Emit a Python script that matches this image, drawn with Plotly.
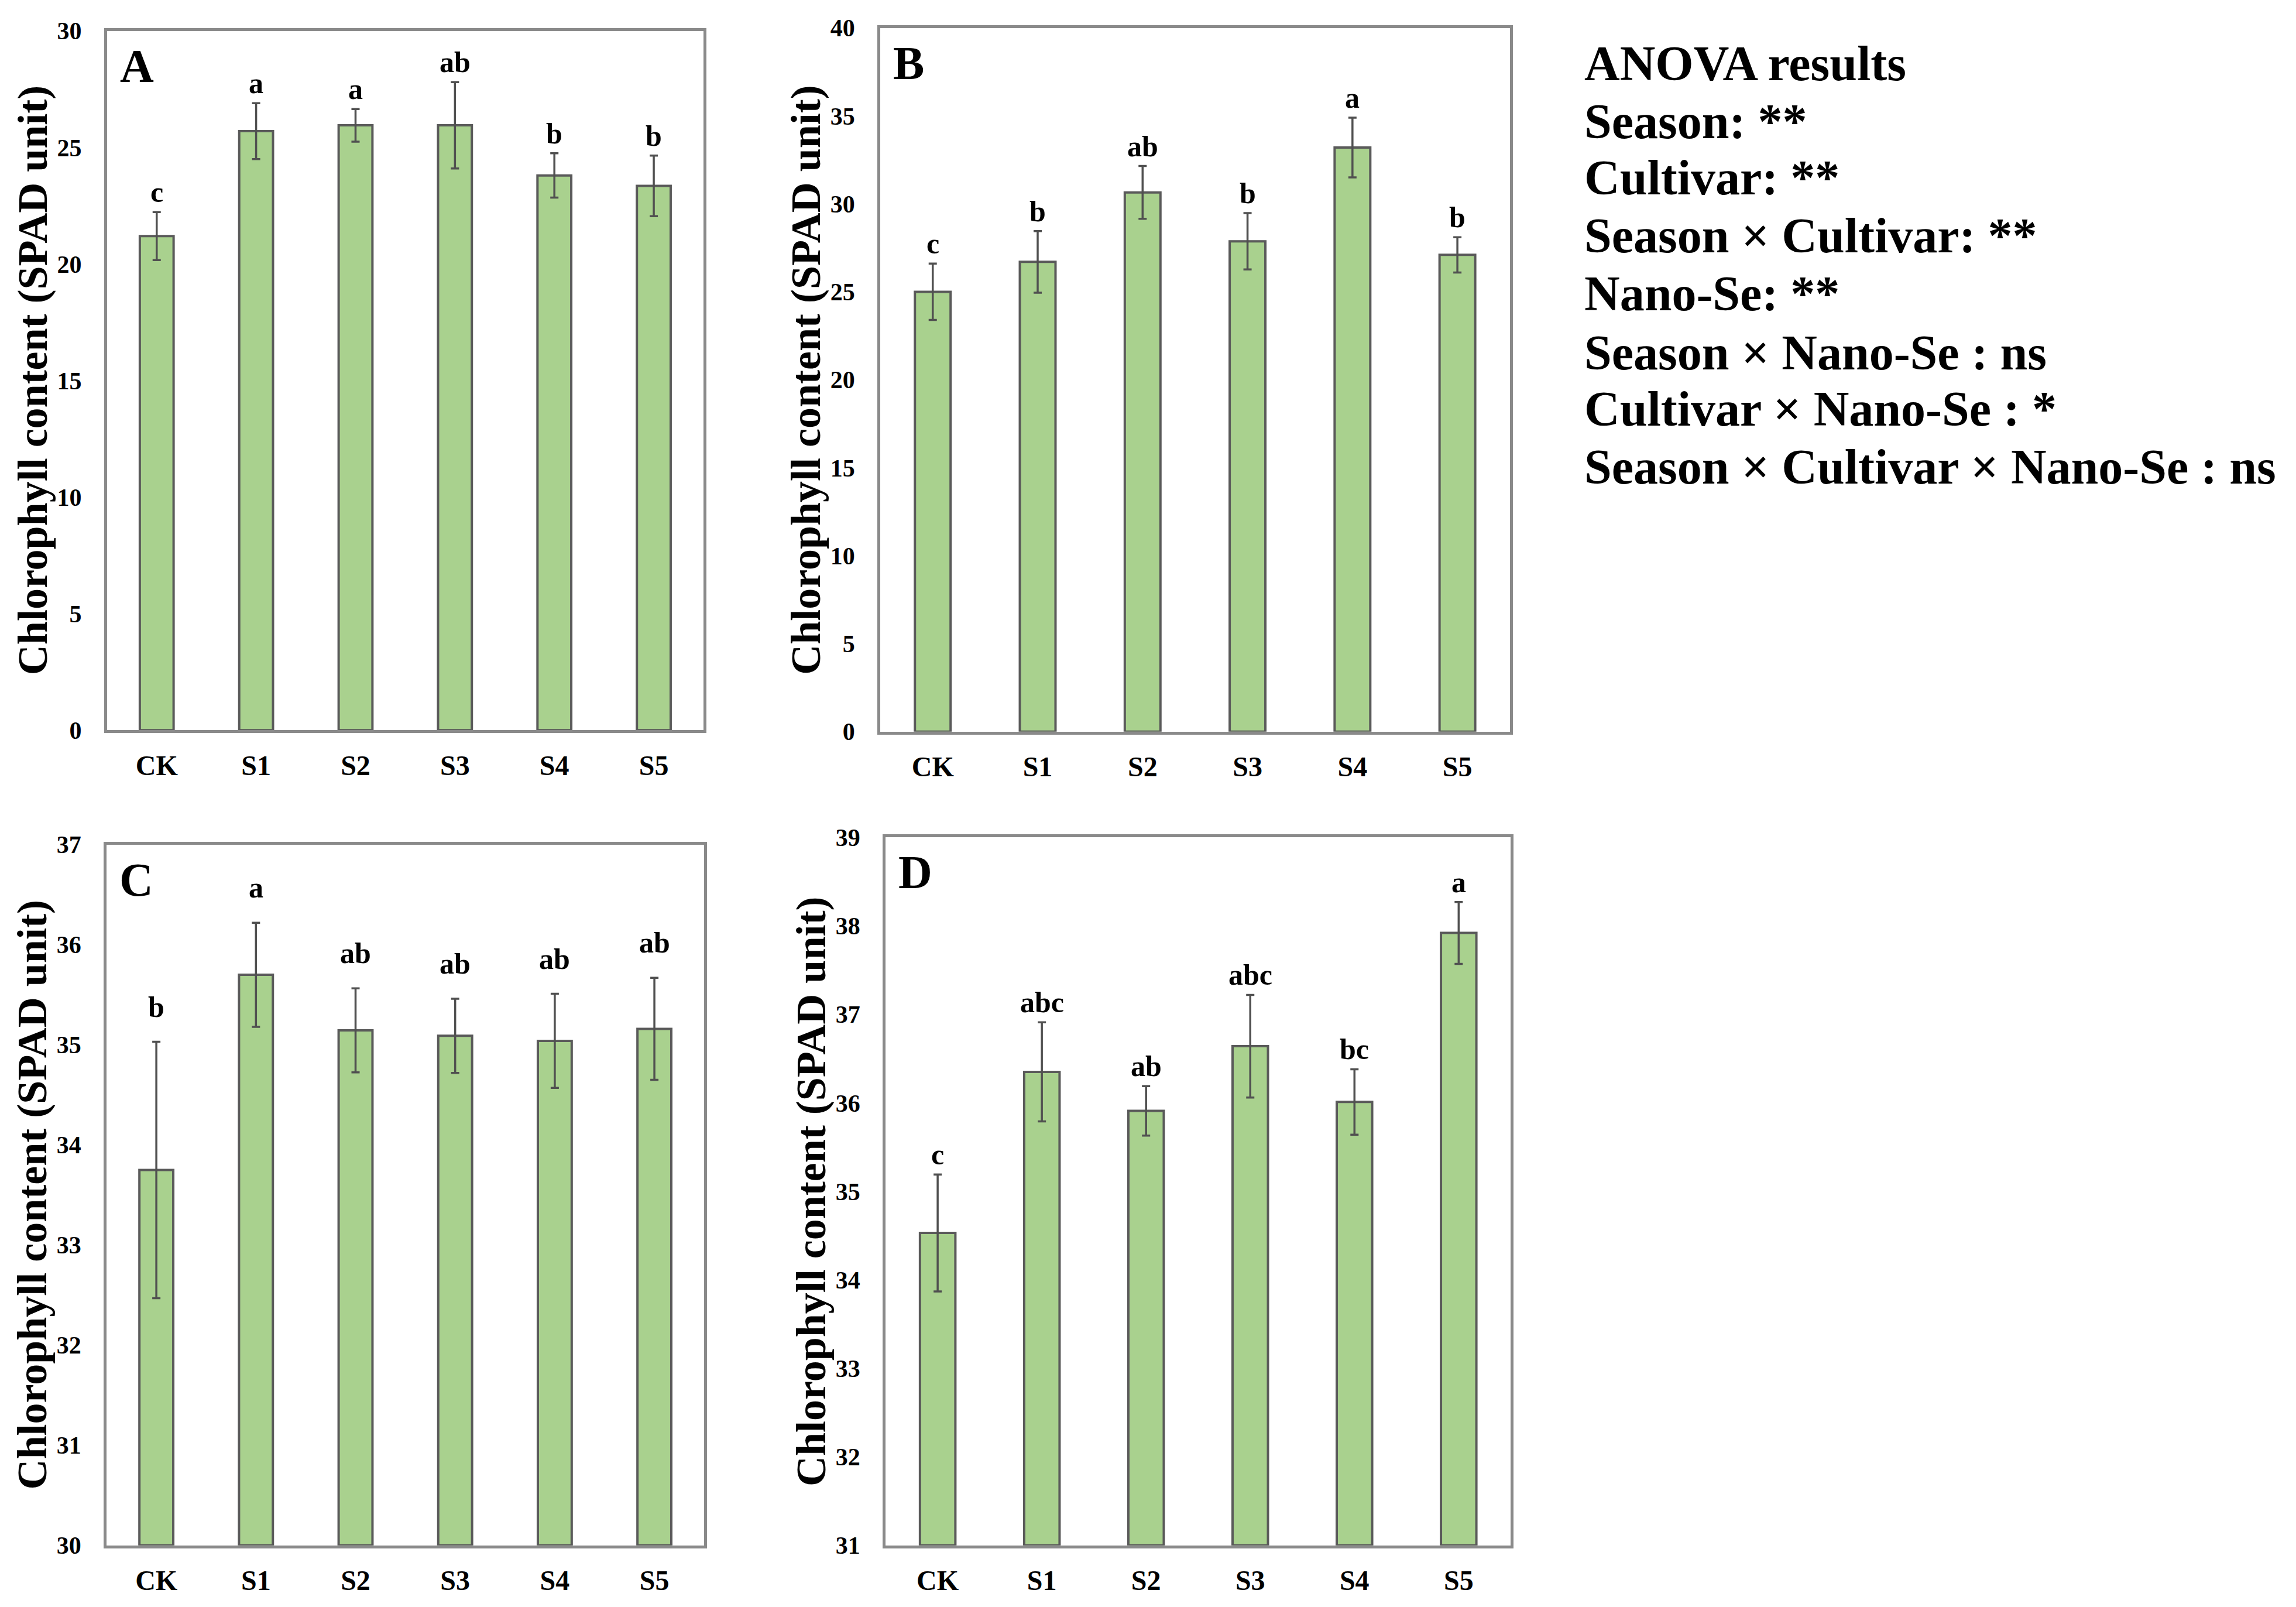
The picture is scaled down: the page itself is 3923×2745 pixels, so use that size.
import plotly.graph_objects as go

categories = ["CK", "S1", "S2", "S3", "S4", "S5"]

a_values = [21.2, 25.7, 25.95, 25.95, 23.8, 23.35]
a_errors = [1.03, 1.2, 0.7, 1.85, 0.95, 1.3]
a_letters = ["c", "a", "a", "ab", "b", "b"]

b_values = [25.0, 26.7, 30.65, 27.87, 33.2, 27.1]
b_errors = [1.6, 1.75, 1.5, 1.6, 1.7, 1.0]
b_letters = ["c", "b", "ab", "b", "a", "b"]

c_values = [33.75, 35.70, 35.145, 35.09, 35.04, 35.16]
c_errors = [1.28, 0.52, 0.42, 0.37, 0.47, 0.51]
c_letters = ["b", "a", "ab", "ab", "ab", "ab"]

d_values = [34.53, 36.35, 35.91, 36.64, 36.01, 37.92]
d_errors = [0.66, 0.56, 0.28, 0.58, 0.37, 0.35]
d_letters = ["c", "abc", "ab", "abc", "bc", "a"]

panel_names = ["A", "B", "C", "D"]
y_ranges = [[0, 30], [0, 40], [30, 37], [31, 39]]
y_dtick = [5, 5, 1, 1]

anova_lines = [
    "ANOVA results",
    "Season: **",
    "Cultivar: **",
    "Season × Cultivar: **",
    "Nano-Se: **",
    "Season × Nano-Se : ns",
    "Cultivar × Nano-Se : *",
    "Season × Cultivar × Nano-Se : ns",
]

y_title = "Chlorophyll content (SPAD unit)"

FONT = "Liberation Serif"
BAR_COLOR = "#A9D18E"
EDGE = "#5a5a5a"
FRAME = "#8a8a8a"

domains = [
    dict(x=[0.0466, 0.3064], y=[0.5460, 0.9886]),
    dict(x=[0.3834, 0.6576], y=[0.5451, 0.9905]),
    dict(x=[0.0464, 0.3067], y=[0.0301, 0.4736]),
    dict(x=[0.3857, 0.6580], y=[0.0301, 0.4782]),
]
letter_shift = [4, 4, 30, 4]
ytitle_x = [0.0143, 0.3510, 0.0141, 0.3533]
anova_y = [0.9678, 0.9312, 0.8957, 0.8591, 0.8225, 0.7849, 0.7494, 0.7128]

panels = [
    (a_values, a_errors, a_letters),
    (b_values, b_errors, b_letters),
    (c_values, c_errors, c_letters),
    (d_values, d_errors, d_letters),
]

fig = go.Figure()
annotations = []
layout_axes = {}

for i, (vals, errs, letters) in enumerate(panels):
    n = i + 1
    xa = "x" if n == 1 else f"x{n}"
    ya = "y" if n == 1 else f"y{n}"
    base = y_ranges[i][0]
    fig.add_trace(go.Bar(
        x=categories,
        y=[v - base for v in vals],
        base=base,
        xaxis=xa, yaxis=ya,
        marker=dict(color=BAR_COLOR, line=dict(color=EDGE, width=4)),
        error_y=dict(type="data", array=errs, visible=True,
                     color="#505050", thickness=3.5, width=7),
        showlegend=False,
    ))
    xkey = "xaxis" if n == 1 else f"xaxis{n}"
    ykey = "yaxis" if n == 1 else f"yaxis{n}"
    layout_axes[xkey] = dict(
        domain=domains[i]["x"], anchor=ya,
        showline=True, mirror=True, linecolor=FRAME, linewidth=5,
        ticks="", showgrid=False, zeroline=False,
        tickfont=dict(family=FONT, size=48, color="black", weight="bold"),
        ticklabelstandoff=14,
    )
    layout_axes[ykey] = dict(
        domain=domains[i]["y"], anchor=xa,
        range=y_ranges[i], dtick=y_dtick[i], tick0=y_ranges[i][0],
        showline=True, mirror=True, linecolor=FRAME, linewidth=5,
        ticks="", showgrid=False, zeroline=False,
        tickfont=dict(family=FONT, size=42, color="black", weight="bold"),
        ticklabelstandoff=30,
    )
    # significance letters
    for c, v, e, lt in zip(categories, vals, errs, letters):
        annotations.append(dict(
            x=c, y=v + e, xref=xa, yref=ya, text=lt, showarrow=False,
            yanchor="bottom", yshift=letter_shift[i],
            font=dict(family=FONT, size=50, color="black", weight="bold"),
        ))
    # panel letter
    annotations.append(dict(
        x=0, y=1, xref=f"{xa} domain", yref=f"{ya} domain",
        xshift=20, yshift=-14,
        text=panel_names[i], showarrow=False, xanchor="left", yanchor="top",
        font=dict(family=FONT, size=80, color="black", weight="bold"),
    ))
    # y-axis title
    annotations.append(dict(
        x=ytitle_x[i], y=sum(domains[i]["y"]) / 2, xref="paper", yref="paper",
        text=y_title, textangle=-90, showarrow=False,
        xanchor="center", yanchor="middle",
        font=dict(family=FONT, size=72, color="black", weight="bold"),
    ))

for txt, yy in zip(anova_lines, anova_y):
    annotations.append(dict(
        x=0.6895, y=yy, xref="paper", yref="paper", text=txt, showarrow=False,
        xanchor="left", yanchor="middle",
        font=dict(family=FONT, size=84, color="black", weight="bold"),
    ))

fig.update_layout(
    width=3923, height=2745,
    margin=dict(l=0, r=0, t=0, b=0),
    paper_bgcolor="white", plot_bgcolor="white",
    bargap=0.66,
    annotations=annotations,
    **layout_axes,
)

fig.write_html(
    "out.html",
    config={"displayModeBar": False},
    post_script="document.body.style.margin='0';",
)
